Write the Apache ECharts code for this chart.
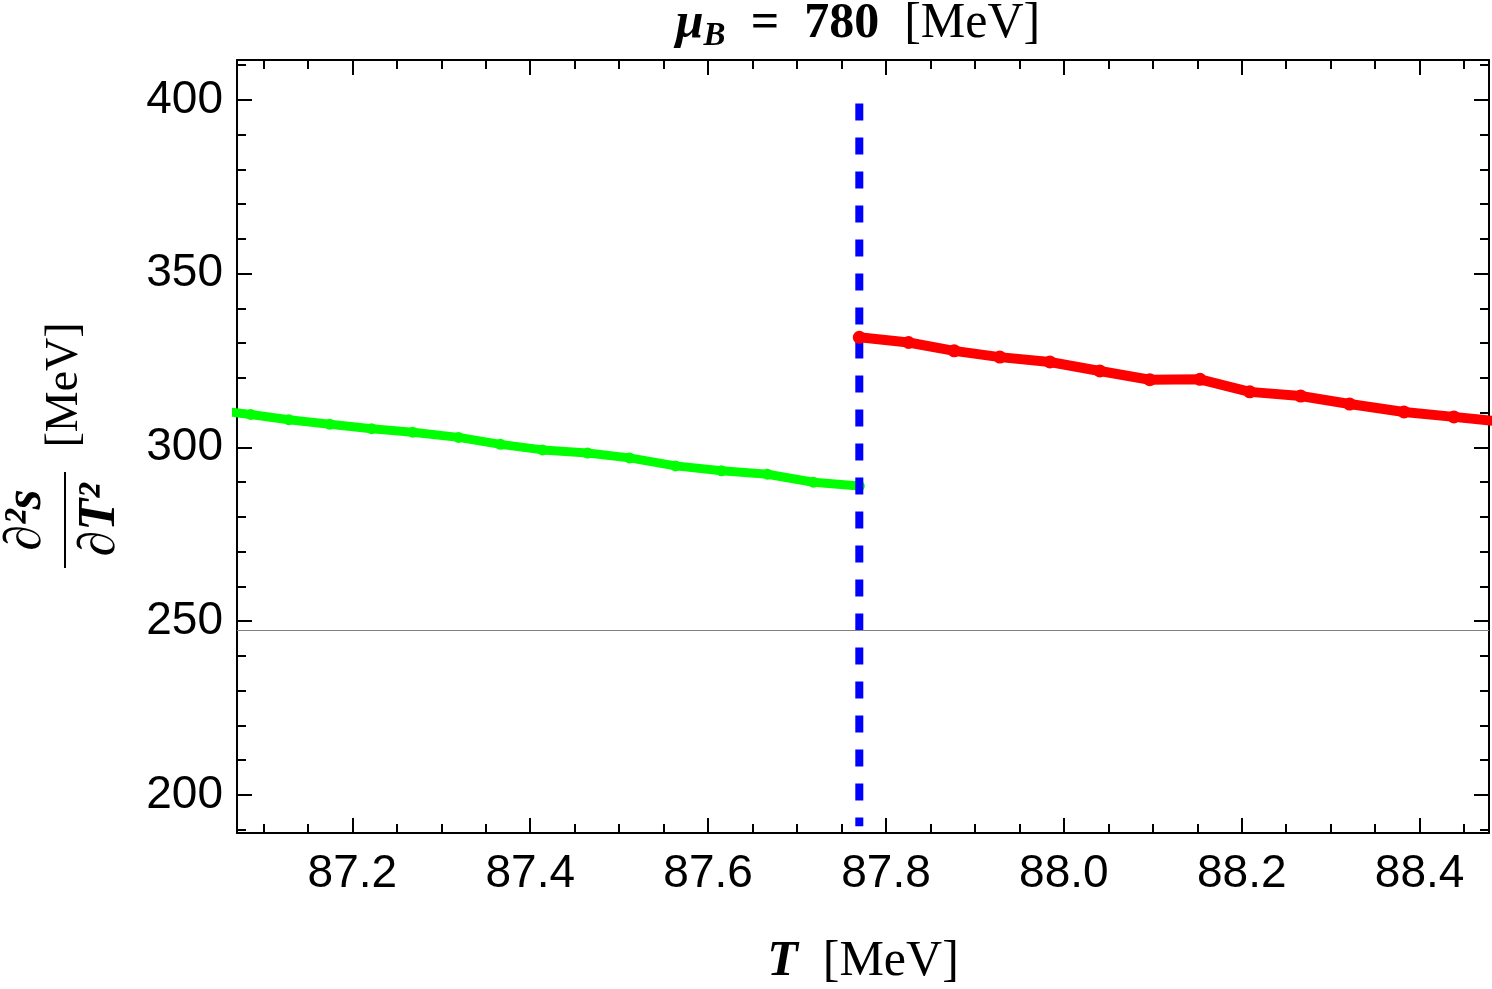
<!DOCTYPE html>
<html>
<head>
<meta charset="utf-8">
<script src="https://cdn.jsdelivr.net/npm/echarts@6/dist/echarts.min.js"></script>
<style>
  html, body { margin: 0; padding: 0; background: #fff; }
  #chart { width: 1492px; height: 989px; }
</style>
</head>
<body>
<div id="chart"></div>
<script>
  // T [MeV] and d2s/dT2 [MeV]
  var greenT = [87.050, 87.0857, 87.1284, 87.1745, 87.2217, 87.2678, 87.3194, 87.3666, 87.4138, 87.4644, 87.5116, 87.5633, 87.6150, 87.6667, 87.7183, 87.7700];
  var greenS = [310.6, 309.5, 308.0, 306.7, 305.4, 304.4, 302.9, 300.9, 299.3, 298.4, 297.0, 294.7, 293.3, 292.3, 290.0, 288.9];
  var redT = [87.7700, 87.8254, 87.8767, 87.9280, 87.9843, 88.0404, 88.0966, 88.1531, 88.2090, 88.2663, 88.3213, 88.3824, 88.4385, 88.4950];
  var redS = [331.7, 330.2, 327.8, 326.0, 324.6, 322.0, 319.5, 319.6, 316.0, 314.8, 312.5, 310.2, 308.8, 307.3];
  var critT = 87.770;          // blue dashed transition line
  var critRange = [399, 191];
  var baseS = 247.4;           // thin grey horizontal line

  var xMin = 87.0703, xMax = 88.478;
  var yMin = 189.06, yMax = 411.5;

  function pts(ts, ss, hide) {
    return ts.map(function (t, i) {
      var item = { value: [t, ss[i]] };
      if (hide.indexOf(i) >= 0) item.symbol = 'none';
      return item;
    });
  }

  var myChart = echarts.init(document.getElementById('chart'));
  var sans = '"Liberation Sans", Arial, sans-serif';
  var serif = '"Liberation Serif", "Times New Roman", serif';

  var frameLine = { show: true, onZero: false, lineStyle: { color: '#000', width: 2 } };
  var xTick = { show: true, inside: true, length: 15, lineStyle: { color: '#000', width: 2 } };
  var xMinor = { show: true, splitNumber: 4, length: 9, lineStyle: { color: '#000', width: 2 } };
  var yMinor = { show: true, splitNumber: 5, length: 9, lineStyle: { color: '#000', width: 2 } };

  var option = {
    animation: false,
    backgroundColor: '#fff',
    grid: { left: 237, right: 2, top: 60, bottom: 156 },
    xAxis: [
      {
        type: 'value', min: xMin, max: xMax, splitNumber: 7,
        axisLine: frameLine, axisTick: xTick, minorTick: xMinor,
        splitLine: { show: false },
        axisLabel: {
          color: '#000', fontSize: 46, fontFamily: sans, margin: 18,
          formatter: function (v) {
            return Math.abs(v * 5 - Math.round(v * 5)) < 1e-6 ? v.toFixed(1) : '';
          }
        }
      },
      {
        type: 'value', position: 'top', min: xMin, max: xMax, splitNumber: 7,
        axisLine: frameLine, axisTick: xTick, minorTick: xMinor,
        splitLine: { show: false }, axisLabel: { show: false }
      }
    ],
    yAxis: [
      {
        type: 'value', min: yMin, max: yMax, splitNumber: 4,
        axisLine: frameLine, axisTick: xTick, minorTick: yMinor,
        splitLine: { show: false },
        axisLabel: {
          color: '#000', fontSize: 46, fontFamily: sans, margin: 14,
          formatter: function (v) {
            return Math.abs(v / 50 - Math.round(v / 50)) < 1e-6 ? String(Math.round(v)) : '';
          }
        }
      },
      {
        type: 'value', position: 'right', min: yMin, max: yMax, splitNumber: 4,
        axisLine: frameLine, axisTick: xTick, minorTick: yMinor,
        splitLine: { show: false }, axisLabel: { show: false }
      }
    ],
    series: [
      {
        type: 'line',
        data: pts(greenT, greenS, [0]),
        symbol: 'circle', symbolSize: 11, showSymbol: true, showAllSymbol: true,
        lineStyle: { color: '#00ff00', width: 9 },
        itemStyle: { color: '#00ff00' },
        z: 3,
        markLine: {
          silent: true, symbol: 'none', label: { show: false },
          lineStyle: { color: '#808080', width: 1, type: 'solid' },
          data: [{ yAxis: baseS }]
        }
      },
      {
        type: 'line',
        data: [[critT, critRange[0]], [critT, critRange[1]]],
        symbol: 'none',
        lineStyle: { color: '#0000ff', width: 8, type: [17, 17], cap: 'butt' },
        z: 4
      },
      {
        type: 'line',
        data: pts(redT, redS, [redT.length - 1]),
        symbol: 'circle', symbolSize: 13, showSymbol: true, showAllSymbol: true,
        lineStyle: { color: '#ff0000', width: 10 },
        itemStyle: { color: '#ff0000' },
        z: 5
      }
    ],
    graphic: [
      {
        type: 'text', x: 858, y: 24,
        style: {
          text: '{m|μ}{s|B}{e|  =  780  }{u|[MeV]}',
          align: 'center', verticalAlign: 'middle',
          rich: {
            m: { fontFamily: serif, fontSize: 50, fontStyle: 'italic', fontWeight: 'bold', fill: '#000' },
            s: { fontFamily: serif, fontSize: 33, fontStyle: 'italic', fontWeight: 'bold', fill: '#000', padding: [24, 0, 0, 0] },
            e: { fontFamily: serif, fontSize: 50, fontWeight: 'bold', fill: '#000' },
            u: { fontFamily: serif, fontSize: 50, fill: '#000' }
          }
        }
      },
      {
        type: 'text', x: 863, y: 962,
        style: {
          text: '{t|T}{u|  [MeV]}',
          align: 'center', verticalAlign: 'middle',
          rich: {
            t: { fontFamily: serif, fontSize: 50, fontStyle: 'italic', fontWeight: 'bold', fill: '#000' },
            u: { fontFamily: serif, fontSize: 50, fill: '#000' }
          }
        }
      },
      {
        type: 'group', x: 65, y: 446, rotation: Math.PI / 2,
        children: [
          {
            type: 'text', x: -74, y: -38,
            style: { text: '∂²s', fontFamily: serif, fontSize: 52, fontStyle: 'italic', fontWeight: 'bold', fill: '#000', align: 'center', verticalAlign: 'middle' }
          },
          {
            type: 'line', shape: { x1: -122, y1: 0, x2: -26, y2: 0 },
            style: { stroke: '#000', lineWidth: 2 }
          },
          {
            type: 'text', x: -74, y: 36,
            style: { text: '∂T²', fontFamily: serif, fontSize: 52, fontStyle: 'italic', fontWeight: 'bold', fill: '#000', align: 'center', verticalAlign: 'middle' }
          },
          {
            type: 'text', x: 61, y: 0,
            style: { text: '[MeV]', fontFamily: serif, fontSize: 46, fill: '#000', align: 'center', verticalAlign: 'middle' }
          }
        ]
      }
    ]
  };

  myChart.setOption(option, true);
</script>
</body>
</html>
